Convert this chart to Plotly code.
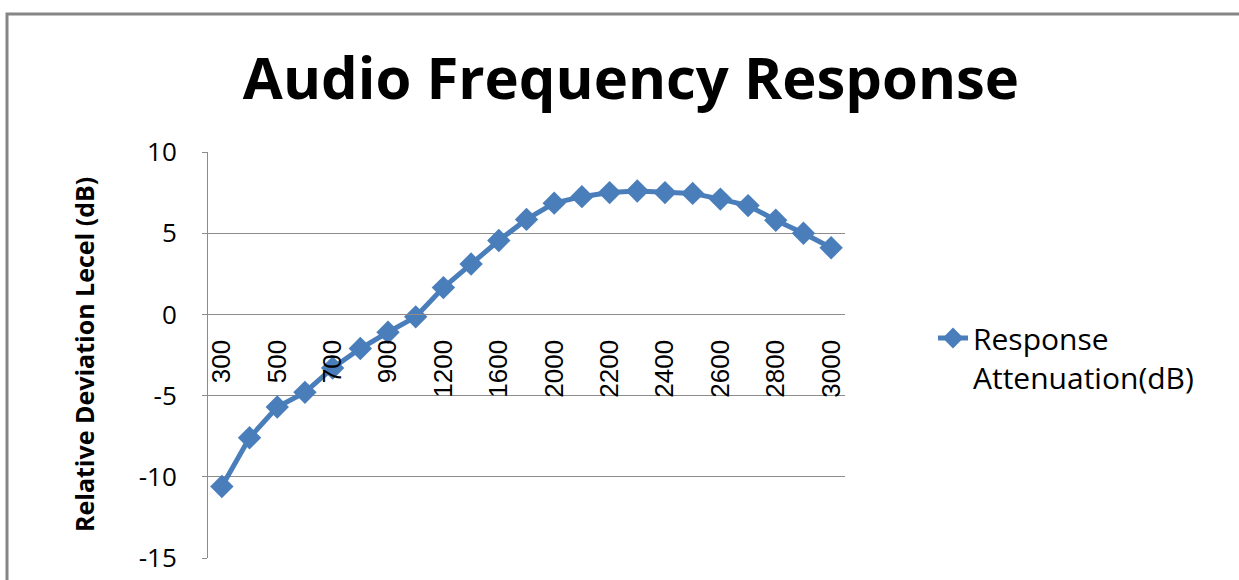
"""Audio frequency response, Excel-style category line chart."""
import plotly.graph_objects as go

FREQ = ["300", "400", "500", "600", "700", "800", "900", "1000", "1200", "1400", "1600", "1800",
        "2000", "2100", "2200", "2300", "2400", "2500", "2600", "2700", "2800", "2900", "3000"]
ATTEN_DB = [-10.6, -7.6, -5.7, -4.8, -3.3, -2.1, -1.1, -0.15, 1.65, 3.1, 4.55, 5.85,
            6.85, 7.25, 7.5, 7.6, 7.5, 7.45, 7.1, 6.7, 5.8, 5.0, 4.1]
Y_TICKS = [-15, -10, -5, 0, 5, 10]

BLUE = "#4A7EBB"
GRID = "#8C8C8C"
INK = "#000000"
FONT = "Open Sans, sans-serif"

W, H = 1239, 580
L, R, T, B = 208, 845, 152, 558  # plot area in px
pw, ph = R - L, B - T


def px_x(x):
    return (x - L) / pw


def px_y(y):
    return (B - y) / ph


fig = go.Figure()
fig.add_trace(go.Scatter(
    x=FREQ, y=ATTEN_DB, mode="lines+markers",
    name="Response<br>Attenuation(dB)",
    line=dict(color=BLUE, width=5),
    marker=dict(symbol="diamond", size=18, color=BLUE),
))

fig.update_layout(
    width=W, height=H,
    margin=dict(l=L, r=W - R, t=T, b=H - B, autoexpand=False),
    paper_bgcolor="white", plot_bgcolor="white",
    font=dict(family=FONT, color=INK),
    title=dict(text="<b>Audio Frequency Response</b>", font=dict(size=58, family=FONT),
               x=631 / W, xanchor="center", y=1 - 79 / H, yanchor="middle"),
    showlegend=True,
    legend=dict(x=px_x(933), xanchor="left", y=px_y(312), yanchor="top",
                valign="top", font=dict(size=30, family=FONT), bgcolor="rgba(0,0,0,0)"),
)

# category axis crosses the value axis at 0, labels every other category
fig.update_xaxes(
    type="category", anchor="free", position=15 / 25,
    range=[-0.5, len(FREQ) - 0.5],
    tickvals=FREQ[::2], tickangle=-90,
    tickfont=dict(size=26, family="Liberation Sans, Arial, sans-serif"),
    ticks="outside", ticklen=14, tickcolor="rgba(0,0,0,0)",
    showline=True, linecolor=GRID, linewidth=1, showgrid=False, zeroline=False,
)
fig.update_yaxes(
    range=[-15, 10], tickvals=Y_TICKS, ticktext=[str(v) for v in Y_TICKS],
    tickfont=dict(size=26),
    showgrid=True, gridcolor=GRID, gridwidth=1, zeroline=False,
    showline=True, linecolor=GRID, linewidth=1,
    ticks="outside", ticklen=5, tickcolor=GRID, ticklabelstandoff=20,
)

fig.add_annotation(
    text="<b>Relative Deviation Lecel (dB)</b>", textangle=-90,
    xref="paper", yref="paper", x=px_x(84), y=px_y(355),
    xanchor="center", yanchor="middle", showarrow=False,
    font=dict(size=25, family=FONT),
)

# chart frame (gray border, runs off the right and bottom edges)
fig.add_shape(type="rect", xref="paper", yref="paper",
              x0=px_x(7), x1=px_x(W + 20), y0=px_y(H + 20), y1=px_y(14),
              line=dict(color="#868686", width=3), fillcolor="rgba(0,0,0,0)")

fig.write_html("out.html", config={"displayModeBar": False},
               post_script="document.body.style.margin='0';")
